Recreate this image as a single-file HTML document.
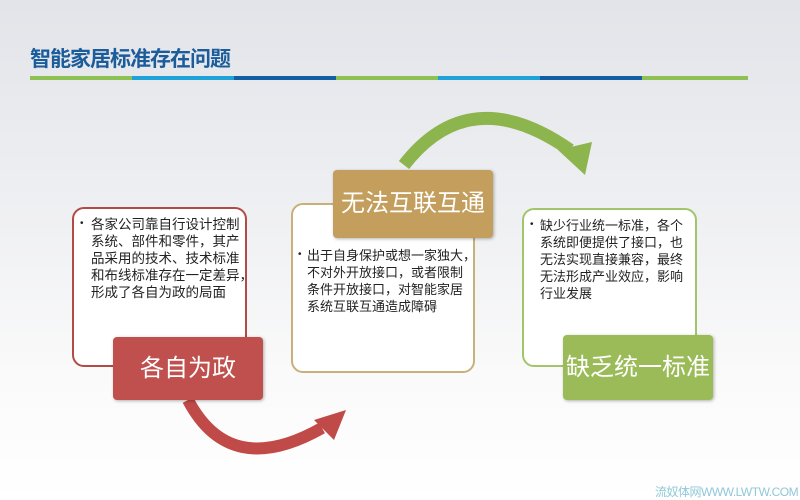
<!DOCTYPE html>
<html><head><meta charset="utf-8"><style>
html,body{margin:0;width:800px;height:500px;overflow:hidden}
body{background:linear-gradient(#e2e4e9 0%,#eeeff2 40%,#fafafa 75%,#ffffff 100%);font-family:"Liberation Sans","Noto Sans CJK SC",sans-serif;position:relative}
.t{position:absolute;left:30px;top:43px;font-size:21px;font-weight:bold;color:#1b5c9b;letter-spacing:-1px}
.s{position:absolute;top:76px;height:4px;width:102px}
.box{position:absolute;background:#fff;border-radius:12px;box-sizing:border-box;font-size:13.5px;line-height:17px;color:#222;padding:7px 0 0 17px;white-space:nowrap}
.b{position:absolute;font-size:10px;line-height:10px}
.lab{position:absolute;color:#fff;font-size:24px;text-align:center;border-radius:4px;box-shadow:1px 1px 3px rgba(0,0,0,.3);white-space:nowrap}
</style></head><body>
<div class="t">智能家居标准存在问题</div>
<div class="s" style="left:30px;background:#8dc153"></div>
<div class="s" style="left:132px;background:#1ea2d8"></div>
<div class="s" style="left:234px;background:#125fa3"></div>
<div class="s" style="left:336px;background:#8dc153"></div>
<div class="s" style="left:438px;background:#1ea2d8"></div>
<div class="s" style="left:540px;background:#125fa3"></div>
<div class="s" style="left:642px;background:#8dc153;width:106px"></div>
<svg width="800" height="500" style="position:absolute;left:0;top:0">
<path d="M404,165 Q470,80 570,150" fill="none" stroke="#8db54e" stroke-width="13"/>
<polygon points="558,150 592,142 585,175" fill="#8db54e"/>
<path d="M188,400 Q230,480 322,428" fill="none" stroke="#c04a48" stroke-width="12"/>
<polygon points="314,420 346,410 334,440" fill="#c04a48"/>
</svg>
<div class="box" style="left:72px;top:207px;width:175px;height:160px;border:2px solid #b24a48"><span class="b" style="left:6px;top:10px">•</span>各家公司靠自行设计控制<br>系统、部件和零件，其产<br>品采用的技术、技术标准<br>和布线标准存在一定差异，<br>形成了各自为政的局面</div>
<div class="lab" style="left:113px;top:337px;width:150px;height:63px;line-height:63px;background:#c0504d">各自为政</div>
<div class="box" style="left:291px;top:203px;width:184px;height:170px;border:2px solid #c9b07a;padding:42px 0 0 14px;font-size:13px"><span class="b" style="left:5px;top:45px">•</span>出于自身保护或想一家独大，<br>不对外开放接口，或者限制<br>条件开放接口，对智能家居<br>系统互联互通造成障碍</div>
<div class="lab" style="left:333px;top:170px;width:160px;height:68px;line-height:68px;background:#c39e5c">无法互联互通</div>
<div class="box" style="left:522px;top:208px;width:175px;height:159px;border:2px solid #a3c46b;font-size:13px;padding-left:16px"><span class="b" style="left:6px;top:10px">•</span>缺少行业统一标准，各个<br>系统即便提供了接口，也<br>无法实现直接兼容，最终<br>无法形成产业效应，影响<br>行业发展</div>
<div class="lab" style="left:563px;top:335px;width:150px;height:65px;line-height:65px;background:#9bbb59">缺乏统一标准</div>
<div style="position:absolute;left:655px;top:483px;font-size:12px;color:#8fc8d8;white-space:nowrap;letter-spacing:-0.5px">流奴体网WWW.LWTW.COM</div>
</body></html>
